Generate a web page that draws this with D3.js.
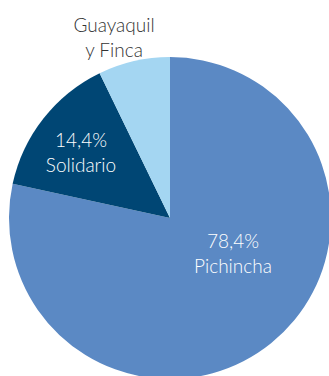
<!DOCTYPE html>
<html>
<head>
<meta charset="utf-8">
<script src="https://cdn.jsdelivr.net/npm/d3@7"></script>
<style>
  html, body { margin: 0; padding: 0; background: #fff; }
  svg { display: block; }
  text { font-family: Lato, "Open Sans", sans-serif; font-weight: 300; }
</style>
</head>
<body>
<svg id="chart" width="329" height="376"></svg>
<script>
// data
const categories = ["Pichincha", "Solidario", "Guayaquil y Finca"]
const shares = [78.4, 14.4, 7.2]
const valueLabels = ["78,4%", "14,4%", ""]
const colors = ["#5b89c4", "#004674", "#a4d6f2"]

const W = 329, H = 376
const cx = 170, cy = 218, R = 161

const svg = d3.select("#chart")
const g = svg.append("g").attr("transform", `translate(${cx},${cy})`)

const pie = d3.pie().sort(null).value(d => d.v)
const arc = d3.arc().innerRadius(0).outerRadius(R)
const color = d3.scaleOrdinal().domain(categories).range(colors)

const rows = categories.map((c, i) => ({name: c, v: shares[i], label: valueLabels[i]}))
const arcs = pie(rows)

g.selectAll("path.slice")
  .data(arcs)
  .enter().append("path")
    .attr("class", "slice")
    .attr("d", arc)
    .attr("fill", d => color(d.data.name))

// label anchors, offsets from pie centre (hand placed like the original)
const labelAt = {
  "Pichincha": {x: 63, y: 30, fill: "#fff", lines: d => [d.label, d.name]},
  "Solidario": {x: -89, y: -71, fill: "#fff", lines: d => [d.label, d.name]},
  "Guayaquil y Finca": {x: -56, y: -186, fill: "#333", lines: d => ["Guayaquil", "y Finca"]}
}

arcs.forEach(a => {
  const p = labelAt[a.data.name]
  const t = g.append("text")
    .attr("x", p.x)
    .attr("y", p.y)
    .attr("text-anchor", "middle")
    .attr("fill", p.fill)
    .attr("font-size", 19)
  p.lines(a.data).forEach((s, i) => {
    t.append("tspan")
      .attr("x", p.x)
      .attr("dy", i === 0 ? 0 : 25)
      .text(s)
  })
})
</script>
</body>
</html>
